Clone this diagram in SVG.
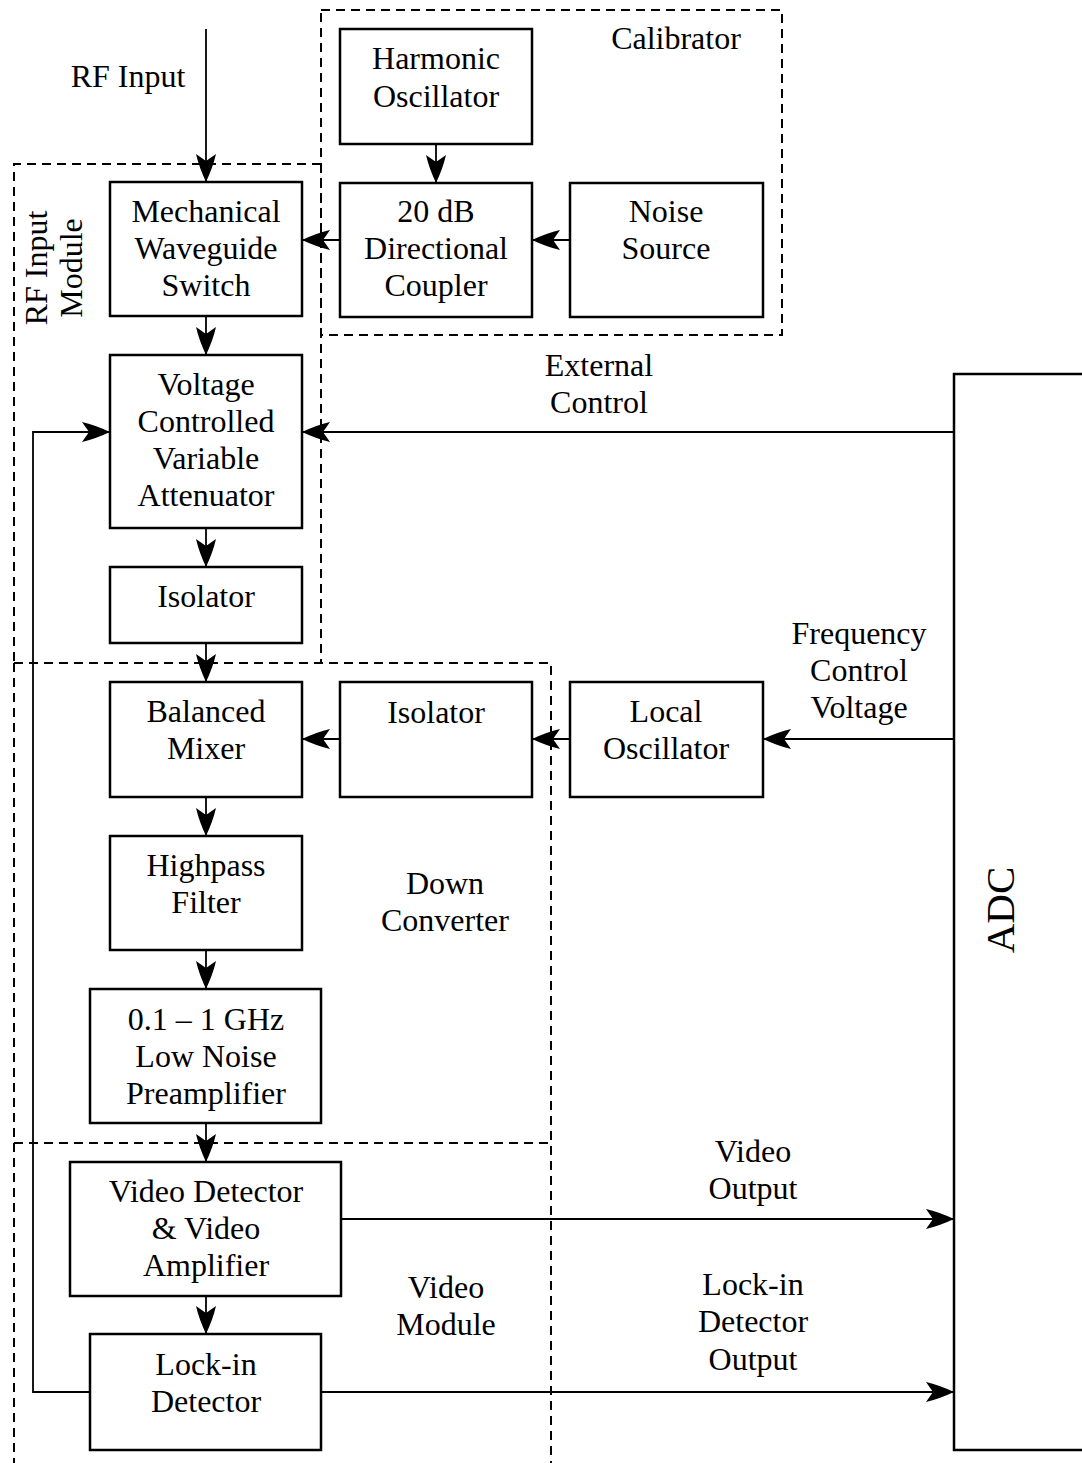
<svg xmlns="http://www.w3.org/2000/svg" width="1082" height="1463" viewBox="0 0 1082 1463">
<style>
.box{fill:#fff;stroke:#000;stroke-width:2.5}
.dash{fill:none;stroke:#000;stroke-width:2;stroke-dasharray:9,6}
.con{fill:none;stroke:#000;stroke-width:1.8}
text{font-family:"Liberation Serif","Times New Roman",serif;font-size:32px;fill:#000;text-anchor:middle}
</style>
<defs>
<marker id="ah" markerUnits="userSpaceOnUse" markerWidth="30" markerHeight="24" viewBox="0 -12 30 24" refX="28" refY="0" orient="auto">
<path d="M28,0 Q13,-7 0,-10 L7,0 L0,10 Q13,7 28,0 Z" fill="#000"/>
</marker>
</defs>
<rect width="1082" height="1463" fill="#fff"/>
<g id="groups">
<rect id="calibrator-group" class="dash" x="321" y="10" width="461" height="325"/>
<path id="rf-input-module-group" class="dash" d="M321,164 L14,164 L14,663 M321,164 L321,663"/>
<path id="down-converter-group" class="dash" d="M14,663 L551,663 L551,1143 M14,663 L14,1143"/>
<path id="video-module-group" class="dash" d="M14,1143 L551,1143 L551,1463 M14,1143 L14,1463"/>
<text x="676" y="49">Calibrator</text>
<text transform="translate(47,268) rotate(-90)">RF Input</text>
<text transform="translate(82,268) rotate(-90)">Module</text>
<text x="445" y="894">Down</text>
<text x="445" y="931">Converter</text>
<text x="446" y="1298">Video</text>
<text x="446" y="1335">Module</text>
</g>
<g id="connectors">
<line class="con" x1="206" y1="29" x2="206" y2="182" marker-end="url(#ah)"/>
<line class="con" x1="436" y1="144" x2="436" y2="183" marker-end="url(#ah)"/>
<line class="con" x1="570" y1="240" x2="532" y2="240" marker-end="url(#ah)"/>
<line class="con" x1="340" y1="240" x2="302" y2="240" marker-end="url(#ah)"/>
<line class="con" x1="206" y1="316" x2="206" y2="355" marker-end="url(#ah)"/>
<line class="con" x1="206" y1="528" x2="206" y2="567" marker-end="url(#ah)"/>
<line class="con" x1="206" y1="643" x2="206" y2="682" marker-end="url(#ah)"/>
<line class="con" x1="340" y1="739" x2="302" y2="739" marker-end="url(#ah)"/>
<line class="con" x1="570" y1="739" x2="532" y2="739" marker-end="url(#ah)"/>
<line class="con" x1="954" y1="739" x2="763" y2="739" marker-end="url(#ah)"/>
<line class="con" x1="954" y1="432" x2="302" y2="432" marker-end="url(#ah)"/>
<polyline class="con" points="90,1392 33,1392 33,432 110,432" marker-end="url(#ah)"/>
<line class="con" x1="206" y1="797" x2="206" y2="836" marker-end="url(#ah)"/>
<line class="con" x1="206" y1="950" x2="206" y2="989" marker-end="url(#ah)"/>
<line class="con" x1="206" y1="1123" x2="206" y2="1162" marker-end="url(#ah)"/>
<line class="con" x1="206" y1="1296" x2="206" y2="1334" marker-end="url(#ah)"/>
<line class="con" x1="341" y1="1219" x2="954" y2="1219" marker-end="url(#ah)"/>
<line class="con" x1="321" y1="1392" x2="954" y2="1392" marker-end="url(#ah)"/>
<text x="128" y="87">RF Input</text>
<text x="599" y="376">External</text>
<text x="599" y="413">Control</text>
<text x="859" y="644">Frequency</text>
<text x="859" y="681">Control</text>
<text x="859" y="718">Voltage</text>
<text x="753" y="1162">Video</text>
<text x="753" y="1199">Output</text>
<text x="753" y="1295">Lock-in</text>
<text x="753" y="1332">Detector</text>
<text x="753" y="1370">Output</text>
</g>
<g id="harmonic-oscillator"><rect class="box" x="340" y="29" width="192" height="115"/><text x="436" y="69">Harmonic</text><text x="436" y="107">Oscillator</text></g>
<g id="directional-coupler"><rect class="box" x="340" y="183" width="192" height="134"/><text x="436" y="222">20 dB</text><text x="436" y="259">Directional</text><text x="436" y="296">Coupler</text></g>
<g id="noise-source"><rect class="box" x="570" y="183" width="193" height="134"/><text x="666" y="222">Noise</text><text x="666" y="259">Source</text></g>
<g id="waveguide-switch"><rect class="box" x="110" y="182" width="192" height="134"/><text x="206" y="222">Mechanical</text><text x="206" y="259">Waveguide</text><text x="206" y="296">Switch</text></g>
<g id="attenuator"><rect class="box" x="110" y="355" width="192" height="173"/><text x="206" y="395">Voltage</text><text x="206" y="432">Controlled</text><text x="206" y="469">Variable</text><text x="206" y="506">Attenuator</text></g>
<g id="isolator-1"><rect class="box" x="110" y="567" width="192" height="76"/><text x="206" y="607">Isolator</text></g>
<g id="balanced-mixer"><rect class="box" x="110" y="682" width="192" height="115"/><text x="206" y="722">Balanced</text><text x="206" y="759">Mixer</text></g>
<g id="isolator-2"><rect class="box" x="340" y="682" width="192" height="115"/><text x="436" y="723">Isolator</text></g>
<g id="local-oscillator"><rect class="box" x="570" y="682" width="193" height="115"/><text x="666" y="722">Local</text><text x="666" y="759">Oscillator</text></g>
<g id="highpass-filter"><rect class="box" x="110" y="836" width="192" height="114"/><text x="206" y="876">Highpass</text><text x="206" y="913">Filter</text></g>
<g id="preamplifier"><rect class="box" x="90" y="989" width="231" height="134"/><text x="206" y="1030">0.1 – 1 GHz</text><text x="206" y="1067">Low Noise</text><text x="206" y="1104">Preamplifier</text></g>
<g id="video-detector"><rect class="box" x="70" y="1162" width="271" height="134"/><text x="206" y="1202">Video Detector</text><text x="206" y="1239">&amp; Video</text><text x="206" y="1276">Amplifier</text></g>
<g id="lock-in-detector"><rect class="box" x="90" y="1334" width="231" height="116"/><text x="206" y="1375">Lock-in</text><text x="206" y="1412">Detector</text></g>
<g id="adc"><rect class="box" x="954" y="374" width="140" height="1076"/><text transform="translate(1014,910) rotate(-90)" style="font-size:41px">ADC</text></g>
</svg>
